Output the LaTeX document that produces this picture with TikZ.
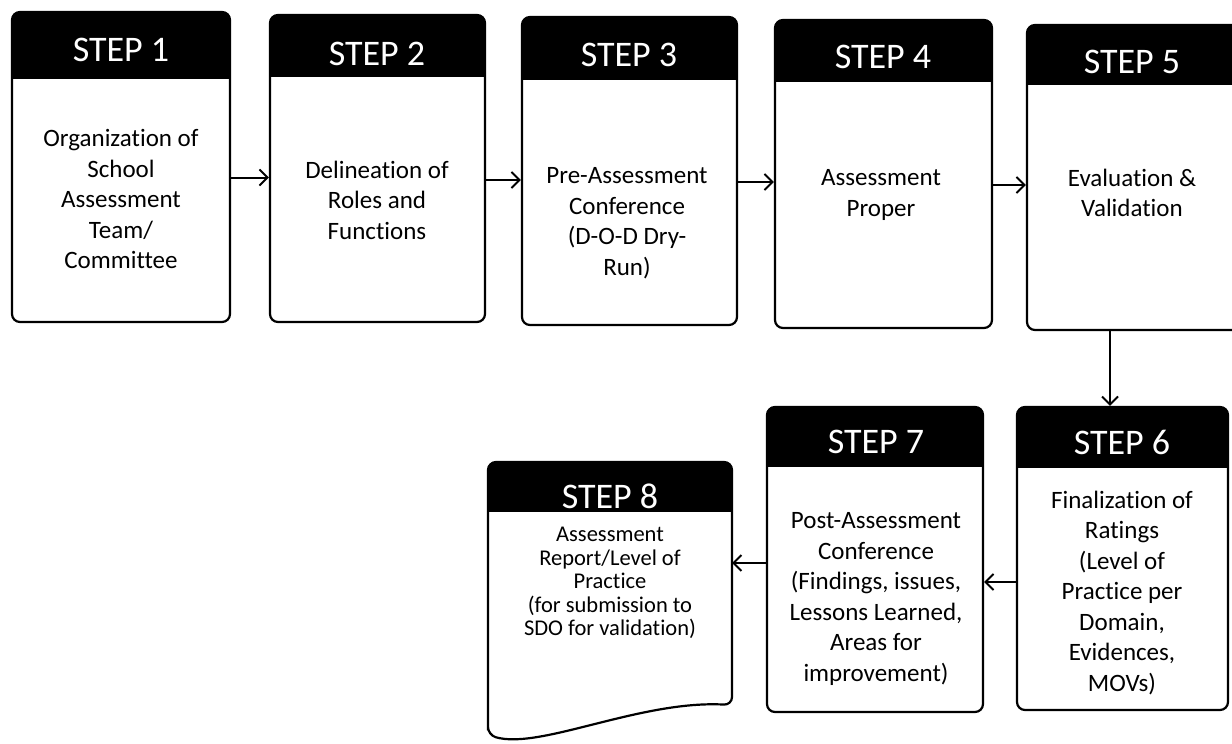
\documentclass[tikz,border=0pt]{standalone}
\usepackage{fontspec}
\setmainfont{Carlito}[Ligatures=NoCommon]
\usetikzlibrary{arrows.meta}
\begin{document}
\begin{tikzpicture}[x=1pt,y=-1pt,line width=2.2pt,
  stepbox/.style={draw,fill=white,rounded corners=8pt,inner sep=0pt,
    path picture={\fill[black,sharp corners] (path picture bounding box.north west) rectangle ([yshift=-#1]path picture bounding box.north east);}},
  stepbox/.default=62pt,
  headtext/.style={text=white,inner sep=0pt,font=\fontsize{36}{40}\selectfont},
  bodytext/.style={align=center,inner sep=0pt,font=\fontsize{25}{30.5}\selectfont},
  arr/.style={line width=2pt,-{Straight Barb[length=8pt,width=16pt]}}]
\useasboundingbox (0,0) rectangle (1232,744);
\clip (0,0) rectangle (1232,744);
\node[stepbox=67pt,minimum width=218pt,minimum height=310pt] (s1) at (121,167) {};
\node[stepbox,minimum width=215pt,minimum height=307pt] (s2) at (377.5,168.5) {};
\node[stepbox=63pt,minimum width=215pt,minimum height=308pt] (s3) at (629.5,171) {};
\node[stepbox,minimum width=217pt,minimum height=308pt] (s4) at (883.5,174) {};
\node[stepbox=60pt,minimum width=218pt,minimum height=305pt] (s5) at (1136,177.5) {};
\node[stepbox=61pt,minimum width=211pt,minimum height=303pt] (s6) at (1122.5,558.5) {};
\node[stepbox=60pt,minimum width=216pt,minimum height=305pt] (s7) at (875,559.5) {};
\path[draw,fill=white,rounded corners=8pt,
  path picture={\fill[black,sharp corners] (488,462) rectangle (732,512);}]
  (488,735) -- (488,462) -- (732,462) -- (732,705)
  .. controls (640,700) and (540,750) .. (488,735) -- cycle;
\coordinate (s8e) at (732,563);
\node[headtext] (h1) at (121,50) {STEP 1};
\node[headtext] (h2) at (377,54) {STEP 2};
\node[headtext] (h3) at (629,55) {STEP 3};
\node[headtext] (h4) at (883,57) {STEP 4};
\node[headtext] (h5) at (1132,62) {STEP 5};
\node[headtext] (h6) at (1122,442) {STEP 6};
\node[headtext] (h7) at (876,442) {STEP 7};
\node[headtext] (h8) at (610,496) {STEP 8};
\node[bodytext] (d1) at (121,199) {Organization of\\School\\Assessment\\Team/\\Committee};
\node[bodytext] (d2) at (377,200) {Delineation of\\Roles and\\Functions};
\node[bodytext] (d3) at (627,223) {Pre-Assessment\\Conference\\(D-O-D Dry-\\Run)};
\node[bodytext] (d4) at (881,195) {Assessment\\Proper};
\node[bodytext] (d5) at (1132,193) {Evaluation \&\\Validation};
\node[bodytext] (d6) at (1122,593) {Finalization of\\Ratings\\(Level of\\Practice per\\Domain,\\Evidences,\\MOVs)};
\node[bodytext] (d7) at (876,599) {Post-Assessment\\Conference\\(Findings, issues,\\Lessons Learned,\\Areas for\\improvement)};
\node[bodytext,font=\fontsize{22.5}{23.5}\selectfont] (d8) at (610,583) {Assessment\\Report/Level of\\Practice\\(for submission to\\SDO for validation)};
\draw[arr] ([yshift=-10.5pt]s1.east) -- ([yshift=-10.5pt]s1.east -| s2.west);
\draw[arr] ([yshift=-11.5pt]s2.east) -- ([yshift=-11.5pt]s2.east -| s3.west);
\draw[arr] ([yshift=-11pt]s3.east) -- ([yshift=-11pt]s3.east -| s4.west);
\draw[arr] ([yshift=-11pt]s4.east) -- ([yshift=-11pt]s4.east -| s5.west);
\draw[arr] ([xshift=-26pt]s5.south) -- ([xshift=-26pt]s5.south |- s6.north);
\draw[arr] ([yshift=-23.5pt]s6.west) -- ([yshift=-23.5pt]s6.west -| s7.east);
\draw[arr] (s7.west |- s8e) -- (s8e);
\end{tikzpicture}
\end{document}
